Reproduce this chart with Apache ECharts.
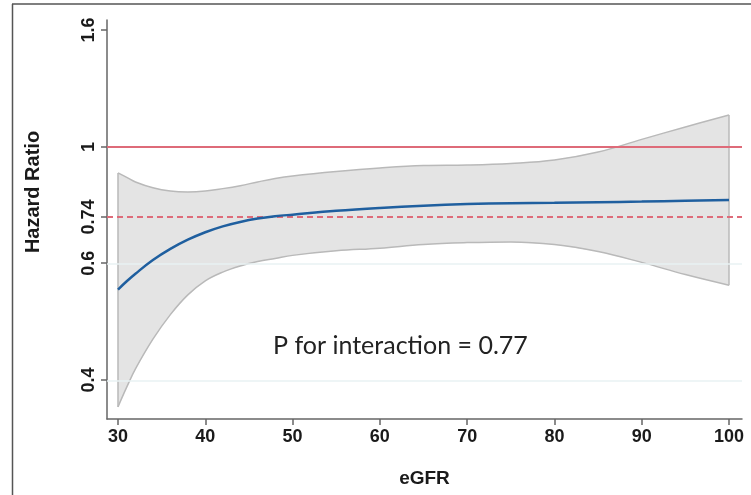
<!DOCTYPE html>
<html>
<head>
<meta charset="utf-8">
<script src="https://cdn.jsdelivr.net/npm/echarts@6/dist/echarts.min.js"></script>
<style>
  html, body { margin: 0; padding: 0; background: #fff; }
  #chart { width: 751px; height: 495px; }
</style>
</head>
<body>
<div id="chart"></div>
<script>
// values (hazard ratio scale)
const eGFR = [30, 31, 32, 34, 36, 38, 40, 42, 44, 46, 48, 50, 55, 60, 65, 70, 75, 80, 85, 90, 95, 100]
const hrFit = [0.564, 0.583, 0.601, 0.635, 0.664, 0.689, 0.710, 0.727, 0.740, 0.750, 0.757, 0.762, 0.774, 0.783, 0.790, 0.795, 0.798, 0.799, 0.801, 0.803, 0.806, 0.808]
const ciUpper = [0.901, 0.885, 0.869, 0.849, 0.838, 0.835, 0.838, 0.846, 0.856, 0.869, 0.881, 0.890, 0.906, 0.919, 0.928, 0.930, 0.936, 0.949, 0.980, 1.031, 1.084, 1.137]
const ciLower = [0.352, 0.381, 0.410, 0.462, 0.510, 0.552, 0.584, 0.605, 0.620, 0.631, 0.639, 0.647, 0.659, 0.666, 0.676, 0.681, 0.683, 0.676, 0.657, 0.629, 0.599, 0.574]

const xTicks = [30, 40, 50, 60, 70, 80, 90, 100]
const yTickAt = [0.392, 0.627, 0.755, 1, 1.6]
const yTickLabels = ['0.4', '0.6', '0.74', '1', '1.6']
const refSolid = 1
const refDashed = 0.755
const gridAt = [0.627, 0.392]
const pText = 'P for interaction = 0.77'

const ln = Math.log
const edge = '#b9b9b9'
const fill = '#e4e4e4'

const upperData = eGFR.map((x, i) => [x, ln(ciUpper[i])])
const lowerData = eGFR.map((x, i) => [x, ln(ciLower[i])])
const fitData = eGFR.map((x, i) => [x, ln(hrFit[i])])
const last = eGFR.length - 1

const labelFor = (v) => {
  let best = 0
  yTickAt.forEach((t, i) => {
    if (Math.abs(ln(t) - v) < Math.abs(ln(yTickAt[best]) - v)) best = i
  })
  return yTickLabels[best]
}

const edgeLine = (name, data, smooth) => ({
  name,
  type: 'line',
  z: 4,
  smooth,
  silent: true,
  symbol: 'none',
  lineStyle: { color: edge, width: 1.5 },
  data,
})

const chart = echarts.init(document.getElementById('chart'), null, { renderer: 'canvas' })
chart.setOption({
  animation: false,
  backgroundColor: '#fff',
  title: {
    text: pText,
    left: 268,
    top: 328,
    textStyle: { fontFamily: 'Lato', fontWeight: 'normal', fontSize: 25, color: '#222' },
  },
  grid: { left: 107, right: 9, top: 20, bottom: 76 },
  xAxis: {
    type: 'value',
    min: 28.74,
    max: 101.49,
    name: 'eGFR',
    nameLocation: 'middle',
    nameGap: 50,
    nameTextStyle: { fontFamily: 'Liberation Sans', fontWeight: 'bold', fontSize: 19, color: '#1a1a1a' },
    axisLine: { onZero: false, lineStyle: { color: '#666', width: 1.5 } },
    axisTick: { customValues: xTicks, length: 6, lineStyle: { color: '#666', width: 1.5 } },
    axisLabel: {
      customValues: xTicks,
      margin: 9,
      fontFamily: 'Liberation Sans',
      fontWeight: 'bold',
      fontSize: 18,
      color: '#1a1a1a',
    },
    splitLine: { show: false },
  },
  yAxis: {
    type: 'value',
    min: -1.0928,
    max: 0.5102,
    axisLine: { show: true, onZero: false, lineStyle: { color: '#666', width: 1.5 } },
    axisTick: { show: true, customValues: yTickAt.map(ln), length: 6, lineStyle: { color: '#666', width: 1.5 } },
    axisLabel: {
      customValues: yTickAt.map(ln),
      rotate: 90,
      margin: 9,
      formatter: labelFor,
      fontFamily: 'Liberation Sans',
      fontWeight: 'bold',
      fontSize: 18,
      color: '#1a1a1a',
    },
    splitLine: { show: false },
  },
  graphic: [
    {
      type: 'text',
      x: 33,
      y: 192,
      rotation: Math.PI / 2,
      style: {
        text: 'Hazard Ratio',
        fontFamily: 'Liberation Sans',
        fontWeight: 'bold',
        fontSize: 20,
        fill: '#1a1a1a',
        align: 'center',
        verticalAlign: 'middle',
      },
    },
    { type: 'line', shape: { x1: 12.5, y1: 4, x2: 12.5, y2: 495 }, style: { stroke: '#555', lineWidth: 1.5 } },
    { type: 'line', shape: { x1: 12, y1: 4, x2: 751, y2: 4 }, style: { stroke: '#555', lineWidth: 1.5 } },
  ],
  series: [
    {
      // confidence band fill
      name: 'band',
      type: 'custom',
      z: 2,
      silent: true,
      data: [[eGFR[0], 0]],
      renderItem: (params, api) => {
        const pts = upperData.map((p) => api.coord(p))
          .concat(lowerData.slice().reverse().map((p) => api.coord(p)))
        return { type: 'polygon', shape: { points: pts }, style: { fill: fill, stroke: null } }
      },
    },
    edgeLine('upper', upperData, 0.4),
    edgeLine('lower', lowerData, 0.4),
    edgeLine('leftEnd', [lowerData[0], upperData[0]], false),
    edgeLine('rightEnd', [lowerData[last], upperData[last]], false),
    {
      name: 'HR',
      type: 'line',
      z: 6,
      smooth: 0.4,
      symbol: 'none',
      lineStyle: { color: '#1f5f9f', width: 2.5 },
      data: fitData,
      markLine: {
        silent: true,
        symbol: 'none',
        label: { show: false },
        data: [
          ...gridAt.map((v) => ({ yAxis: ln(v), lineStyle: { color: '#e9f2f3', width: 1.5, type: 'solid' } })),
          { yAxis: ln(refSolid), lineStyle: { color: '#de6b79', width: 2, type: 'solid' } },
          { yAxis: ln(refDashed), lineStyle: { color: '#de6b79', width: 2, type: [6, 4] } },
        ],
      },
    },
  ],
})
</script>
</body>
</html>
